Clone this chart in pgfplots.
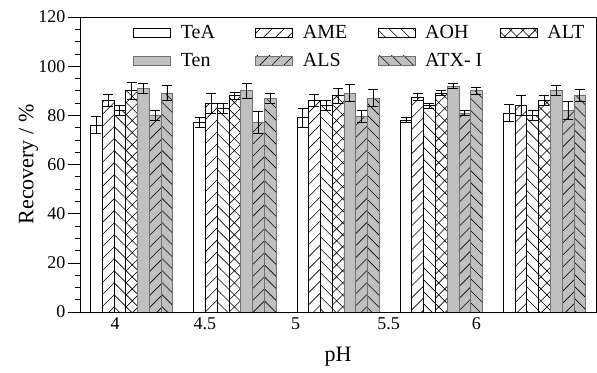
\documentclass[border=0pt]{standalone}
\usepackage{fontspec}
\setmainfont{Liberation Serif}
\usepackage{pgfplots}
\usepackage{pgfplotstable}
\pgfplotsset{compat=1.18}
\usetikzlibrary{patterns.meta}
\newcommand\tkf{\fontsize{18bp}{21bp}\selectfont}
\newcommand\lgf{\fontsize{20bp}{22bp}\selectfont}
\newcommand\axf{\fontsize{22bp}{24bp}\selectfont}
\definecolor{bargray}{HTML}{C0C0C0}
\definecolor{edgegray}{HTML}{707070}
\newcommand\lt[1]{\hspace{10bp}\makebox[74.6bp][l]{\lgf #1}}

\pgfplotstableread{
x y e
0 76 3.5
1 77 2
2 79 4
3 78 1
4 81 3.5
}\TeA
\pgfplotstableread{
x y e
0 86 2.5
1 85 4
2 86 2.5
3 87.5 1.5
4 84 4
}\AME
\pgfplotstableread{
x y e
0 82 2
1 83 2
2 84 2
3 84 1
4 80 2
}\AOH
\pgfplotstableread{
x y e
0 90 3.5
1 88 1.5
2 88 3
3 89 1
4 86 2
}\ALT
\pgfplotstableread{
x y e
0 91 2
1 90 3
2 89 3.5
3 92 1
4 90 2
}\Ten
\pgfplotstableread{
x y e
0 80 2
1 77 4.5
2 79.5 2.5
3 81 1
4 82 3.5
}\ALS
\pgfplotstableread{
x y e
0 89 3
1 87 2
2 87 3.5
3 90 1.5
4 88 2.5
}\ATX

\begin{document}
\begin{tikzpicture}
\useasboundingbox (-80bp,-61bp) rectangle (517bp,312bp);
\begin{axis}[
  at={(0,0)}, anchor=south west,
  scale only axis, width=516bp, height=295bp,
  xmin=-0.5, xmax=4.5, ymin=0, ymax=120,
  xtick={-0.16,0.71,1.59,2.49,3.34},
  xticklabels={4,4.5,5,5.5,6},
  ytick={0,20,...,120},
  yticklabels={0,20,40,60,80,100,120},
  minor y tick num=3,
  ytick pos=left,
  tick align=outside,
  major tick length=12bp,
  minor tick length=5bp,
  x tick style={draw=none},
  every tick/.style={black, line width=0.6pt},
  axis line style={black, line width=0.7pt},
  tick label style={font=\tkf},
  xticklabel style={yshift=10bp},
  yticklabel style={xshift=1bp},
  xlabel={pH}, ylabel={Recovery / \%},
  label style={font=\axf},
  xlabel style={at={(axis description cs:0.5,-0.152)}, anchor=center},
  ylabel style={at={(axis description cs:-0.1,0.5)}, anchor=center},
  legend columns=4,
  legend style={at={(rel axis cs:0,1)}, anchor=north west, xshift=53bp, yshift=-8bp,
     draw=none, fill=none, inner sep=0pt, row sep=13bp, nodes={inner sep=0pt}},
  legend image code/.code={\draw[#1] (0bp,-4.5bp) rectangle (37bp,4.5bp);},
  every axis plot/.append style={ybar, bar width=0.114, bar shift=0pt, line width=0.6pt},
  error bars/y dir=both, error bars/y explicit,
  error bars/error mark=-,
  error bars/error bar style={black, line width=0.7pt},
  error bars/error mark options={rotate=90, black, line width=0.7pt, mark size=5bp},
]
\addplot[fill=white, draw=black]
  table[x expr=\thisrow{x}-0.342, y=y, y error=e] {\TeA};
\addlegendentry{\lt{TeA}}
\addplot[fill=white, draw=black,
  postaction={pattern={Lines[angle=45,distance=8.5bp,line width=0.6pt]}}]
  table[x expr=\thisrow{x}-0.228, y=y, y error=e] {\AME};
\addlegendentry{\lt{AME}}
\addplot[fill=white, draw=black,
  postaction={pattern={Lines[angle=-45,distance=8.5bp,line width=0.6pt]}}]
  table[x expr=\thisrow{x}-0.114, y=y, y error=e] {\AOH};
\addlegendentry{\lt{AOH}}
\addplot[fill=white, draw=black,
  postaction={pattern={Hatch[angle=45,distance=8.5bp,line width=0.6pt]}}]
  table[x expr=\thisrow{x}, y=y, y error=e] {\ALT};
\addlegendentry{\lt{ALT}}
\addplot[fill=bargray, draw=edgegray]
  table[x expr=\thisrow{x}+0.114, y=y, y error=e] {\Ten};
\addlegendentry{\lt{Ten}}
\addplot[fill=bargray, draw=edgegray,
  postaction={pattern={Lines[angle=45,distance=8.5bp,line width=0.6pt]}}]
  table[x expr=\thisrow{x}+0.228, y=y, y error=e] {\ALS};
\addlegendentry{\lt{ALS}}
\addplot[fill=bargray, draw=edgegray,
  postaction={pattern={Lines[angle=-45,distance=8.5bp,line width=0.6pt]}}]
  table[x expr=\thisrow{x}+0.342, y=y, y error=e] {\ATX};
\addlegendentry{\lt{ATX- I}}
\end{axis}
\end{tikzpicture}
\end{document}
